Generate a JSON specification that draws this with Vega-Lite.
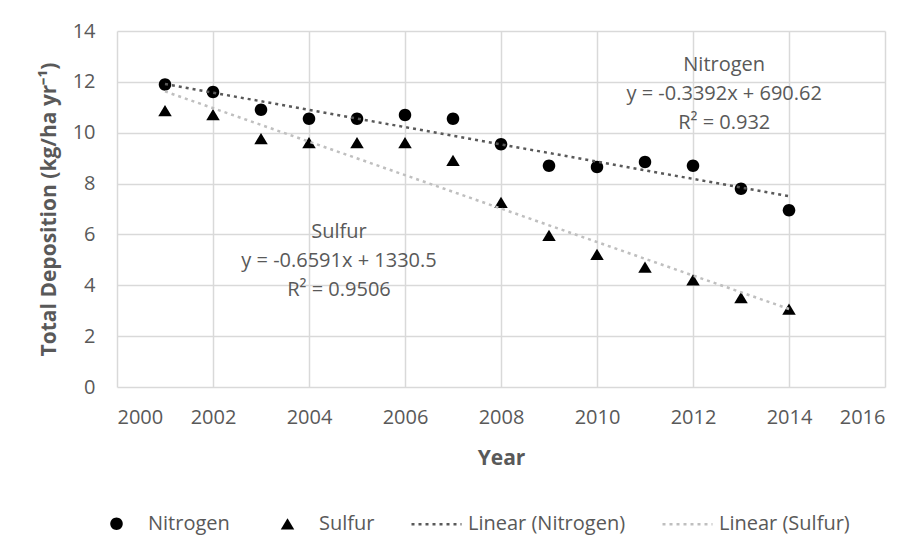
{
  "$schema": "https://vega.github.io/schema/vega-lite/v6.json",
  "width": 768,
  "height": 356,
  "autosize": {"type": "none"},
  "padding": {"left": 117, "top": 31, "right": 34, "bottom": 167},
  "background": "white",
  "config": {
    "font": "Open Sans",
    "view": {"stroke": null},
    "axis": {
      "labelFont": "Open Sans",
      "labelFontSize": 20,
      "labelColor": "#595959",
      "titleFont": "Open Sans",
      "titleFontSize": 21,
      "titleFontWeight": "bold",
      "titleColor": "#595959",
      "gridColor": "#d9d9d9",
      "gridWidth": 1.5,
      "domain": false,
      "ticks": false
    },
    "legend": {
      "orient": "none",
      "direction": "horizontal",
      "legendX": -27,
      "legendY": 466,
      "title": null,
      "padding": 0,
      "labelOffset": 5,
      "columnPadding": 31,
      "labelFont": "Open Sans",
      "labelFontSize": 20,
      "labelColor": "#595959",
      "symbolSize": 2500,
      "symbolDash": [3, 4],
      "symbolStrokeWidth": 2.5,
      "symbolOpacity": 1
    }
  },
  "data": {
    "values": [
      {"year": 2001, "value": 11.9, "series": "Nitrogen", "trend": "Linear (Nitrogen)"},
      {"year": 2002, "value": 11.6, "series": "Nitrogen", "trend": "Linear (Nitrogen)"},
      {"year": 2003, "value": 10.9, "series": "Nitrogen", "trend": "Linear (Nitrogen)"},
      {"year": 2004, "value": 10.55, "series": "Nitrogen", "trend": "Linear (Nitrogen)"},
      {"year": 2005, "value": 10.55, "series": "Nitrogen", "trend": "Linear (Nitrogen)"},
      {"year": 2006, "value": 10.7, "series": "Nitrogen", "trend": "Linear (Nitrogen)"},
      {"year": 2007, "value": 10.55, "series": "Nitrogen", "trend": "Linear (Nitrogen)"},
      {"year": 2008, "value": 9.55, "series": "Nitrogen", "trend": "Linear (Nitrogen)"},
      {"year": 2009, "value": 8.7, "series": "Nitrogen", "trend": "Linear (Nitrogen)"},
      {"year": 2010, "value": 8.65, "series": "Nitrogen", "trend": "Linear (Nitrogen)"},
      {"year": 2011, "value": 8.85, "series": "Nitrogen", "trend": "Linear (Nitrogen)"},
      {"year": 2012, "value": 8.7, "series": "Nitrogen", "trend": "Linear (Nitrogen)"},
      {"year": 2013, "value": 7.8, "series": "Nitrogen", "trend": "Linear (Nitrogen)"},
      {"year": 2014, "value": 6.95, "series": "Nitrogen", "trend": "Linear (Nitrogen)"},
      {"year": 2001, "value": 10.85, "series": "Sulfur", "trend": "Linear (Sulfur)"},
      {"year": 2002, "value": 10.7, "series": "Sulfur", "trend": "Linear (Sulfur)"},
      {"year": 2003, "value": 9.75, "series": "Sulfur", "trend": "Linear (Sulfur)"},
      {"year": 2004, "value": 9.6, "series": "Sulfur", "trend": "Linear (Sulfur)"},
      {"year": 2005, "value": 9.6, "series": "Sulfur", "trend": "Linear (Sulfur)"},
      {"year": 2006, "value": 9.6, "series": "Sulfur", "trend": "Linear (Sulfur)"},
      {"year": 2007, "value": 8.9, "series": "Sulfur", "trend": "Linear (Sulfur)"},
      {"year": 2008, "value": 7.25, "series": "Sulfur", "trend": "Linear (Sulfur)"},
      {"year": 2009, "value": 5.95, "series": "Sulfur", "trend": "Linear (Sulfur)"},
      {"year": 2010, "value": 5.2, "series": "Sulfur", "trend": "Linear (Sulfur)"},
      {"year": 2011, "value": 4.7, "series": "Sulfur", "trend": "Linear (Sulfur)"},
      {"year": 2012, "value": 4.2, "series": "Sulfur", "trend": "Linear (Sulfur)"},
      {"year": 2013, "value": 3.5, "series": "Sulfur", "trend": "Linear (Sulfur)"},
      {"year": 2014, "value": 3.05, "series": "Sulfur", "trend": "Linear (Sulfur)"}
    ]
  },
  "encoding": {
    "x": {
      "field": "year",
      "type": "quantitative",
      "scale": {"domain": [2000, 2016], "nice": false, "zero": false},
      "axis": {"values": [2000, 2002, 2004, 2006, 2008, 2010, 2012, 2014, 2016], "format": "d", "labelPadding": 20, "title": "Year", "titlePadding": 20}
    },
    "y": {
      "field": "value",
      "type": "quantitative",
      "scale": {"domain": [0, 14], "nice": false},
      "axis": {"values": [0, 2, 4, 6, 8, 10, 12, 14], "labelPadding": 22, "title": "Total Deposition (kg/ha yr⁻¹)", "titlePadding": 13}
    }
  },
  "layer": [
    {
      "mark": {"type": "point", "filled": true, "opacity": 1, "size": 2500},
      "encoding": {
        "fill": {
          "field": "series",
          "type": "nominal",
          "scale": {"domain": ["Nitrogen", "Sulfur", "Linear (Nitrogen)", "Linear (Sulfur)"], "range": ["black", "black", "transparent", "transparent"]},
          "legend": {"orient": "none", "legendX": -27, "legendY": 466, "direction": "horizontal", "title": null}
        },
        "shape": {
          "field": "series",
          "type": "nominal",
          "scale": {"domain": ["Nitrogen", "Sulfur", "Linear (Nitrogen)", "Linear (Sulfur)"], "range": [
            "M-0.25,0C-0.25,-0.138,-0.138,-0.25,0,-0.25C0.138,-0.25,0.25,-0.138,0.25,0C0.25,0.138,0.138,0.25,0,0.25C-0.138,0.25,-0.25,0.138,-0.25,0Z",
            "M0,-0.24L0.27,0.21L-0.27,0.21Z",
            "M-1,0H1",
            "M-1,0H1"
          ]},
          "legend": {"orient": "none", "legendX": -27, "legendY": 466, "direction": "horizontal", "title": null}
        }
      }
    },
    {
      "transform": [
        {"regression": "value", "on": "year", "groupby": ["trend"]}
      ],
      "mark": {"type": "line", "strokeWidth": 2.5, "strokeDash": [3, 4]},
      "encoding": {
        "stroke": {
          "field": "trend",
          "type": "nominal",
          "scale": {"domain": ["Nitrogen", "Sulfur", "Linear (Nitrogen)", "Linear (Sulfur)"], "range": ["transparent", "transparent", "#595959", "#bfbfbf"]},
          "legend": {"orient": "none", "legendX": -27, "legendY": 466, "direction": "horizontal", "title": null}
        }
      }
    },
    {
      "transform": [{"filter": "datum.year === 2001 && datum.series === 'Nitrogen'"}],
      "mark": {"type": "text", "text": ["Nitrogen", "y = -0.3392x + 690.62", "R² = 0.932"], "lineHeight": 29, "baseline": "middle", "align": "center", "font": "Open Sans", "fontSize": 20, "color": "#595959"},
      "encoding": {
        "x": {"datum": 2012.65},
        "y": {"datum": 12.66}
      }
    },
    {
      "transform": [{"filter": "datum.year === 2001 && datum.series === 'Sulfur'"}],
      "mark": {"type": "text", "text": ["Sulfur", "y = -0.6591x + 1330.5", "R² = 0.9506"], "lineHeight": 29, "baseline": "middle", "align": "center", "font": "Open Sans", "fontSize": 20, "color": "#595959"},
      "encoding": {
        "x": {"datum": 2004.625},
        "y": {"datum": 6.1}
      }
    }
  ]
}
